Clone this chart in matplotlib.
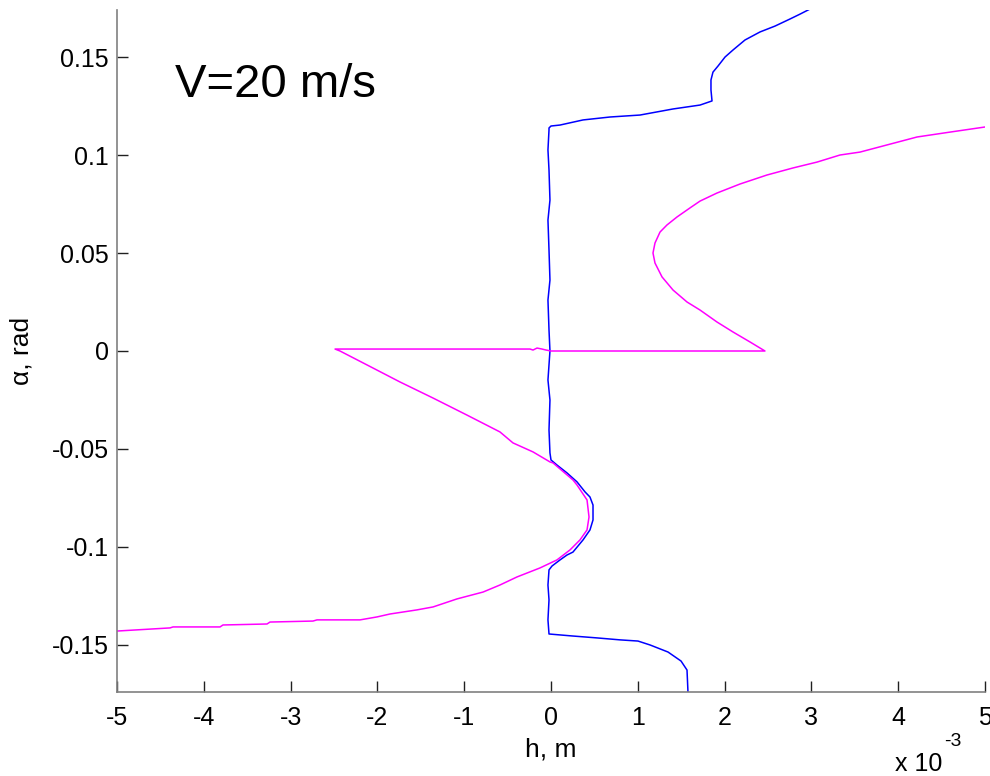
import numpy as np
import matplotlib
matplotlib.use("Agg")
import matplotlib.pyplot as plt

plt.rcParams['font.family'] = ['Liberation Sans', 'DejaVu Sans']

# Plunge displacement h (in units of 1e-3 m) and pitch angle alpha (rad)
h_blue = [1.578, 1.578, 1.567, 1.498, 1.348, 1.141, 1.002, 0.795, 0.530, 0.242, -0.023,
          -0.035, -0.023, -0.035, -0.023, 0.012, 0.104, 0.184, 0.253, 0.369, 0.449, 0.484,
          0.484, 0.449, 0.392, 0.300, 0.184, 0.069, 0.000, -0.012,
          -0.023, -0.012, -0.035, -0.012, -0.023, -0.035, -0.012, -0.023, -0.035, -0.012,
          -0.023, -0.035, -0.023, -0.023, 0.000, 0.104, 0.369, 0.680, 1.025, 1.406, 1.717,
          1.855, 1.843, 1.843, 1.866, 1.924, 2.005, 2.097, 2.235, 2.408, 2.581, 2.753,
          2.869, 2.984]
a_blue = [-0.178, -0.1740, -0.1628, -0.1582, -0.1536, -0.1500, -0.1480, -0.1474, -0.1464,
          -0.1454, -0.1444, -0.1372, -0.1270, -0.1194, -0.1117, -0.1097, -0.1066, -0.1041,
          -0.1026, -0.0964, -0.0913, -0.0862, -0.0786, -0.0745, -0.0719, -0.0668, -0.0622,
          -0.0582, -0.0556, -0.0520,
          -0.0403, -0.0250, -0.0148, 0.0000, 0.0107, 0.0260, 0.0362, 0.0515, 0.0668, 0.0770,
          0.0923, 0.1026, 0.1128, 0.1138, 0.1148, 0.1153, 0.1179, 0.1194, 0.1204, 0.1235,
          0.1255, 0.1276, 0.1332, 0.1383, 0.1423, 0.1454, 0.1500, 0.1536, 0.1587, 0.1628,
          0.1658, 0.1694, 0.1719, 0.1745]

h_mag = [-5.000, -4.389, -4.355, -3.813, -3.779, -3.272, -3.237, -2.742, -2.696, -2.200,
         -2.005, -1.855, -1.544, -1.359, -1.083, -0.783, -0.588, -0.392, -0.127, 0.069,
         0.219, 0.334, 0.415, 0.438, 0.415, 0.300, 0.253, 0.023, -0.012, -0.207, -0.438,
         -0.588, -0.968, -1.359, -1.740, -2.120, -2.431, -2.488,
         -0.242, -0.207, -0.161, -0.104, -0.058, 0.000, 2.465,
         2.293, 2.097, 1.912, 1.717, 1.567, 1.406, 1.279, 1.198, 1.175, 1.198, 1.256,
         1.336, 1.452, 1.601, 1.717, 1.912, 2.177, 2.488, 2.788, 3.065, 3.329, 3.560,
         4.217, 4.597, 5.000]
a_mag = [-0.1429, -0.1413, -0.1408, -0.1408, -0.1398, -0.1393, -0.1383, -0.1378, -0.1372,
         -0.1372, -0.1357, -0.1342, -0.1321, -0.1306, -0.1265, -0.1230, -0.1194, -0.1153,
         -0.1107, -0.1066, -0.1015, -0.0964, -0.0913, -0.0847, -0.0760, -0.0684, -0.0658,
         -0.0571, -0.0566, -0.0515, -0.0469, -0.0413, -0.0327, -0.0240, -0.0158, -0.0071,
         0.0000, 0.0010,
         0.0010, 0.0005, 0.0015, 0.0010, 0.0005, 0.0000, 0.0000,
         0.0046, 0.0097, 0.0148, 0.0209, 0.0250, 0.0311, 0.0378, 0.0449, 0.0500, 0.0551,
         0.0607, 0.0643, 0.0684, 0.0730, 0.0765, 0.0806, 0.0852, 0.0898, 0.0934, 0.0964,
         0.1000, 0.1015, 0.1092, 0.1117, 0.1143]

x_ticks = [-5, -4, -3, -2, -1, 0, 1, 2, 3, 4, 5]
y_ticks = [-0.15, -0.1, -0.05, 0, 0.05, 0.1, 0.15]
y_tick_labels = ['-0.15', '-0.1', '-0.05', '0', '0.05', '0.1', '0.15']

fig = plt.figure(figsize=(9.9, 7.76), dpi=100)
ax = fig.add_axes([117 / 990, 84 / 776, 868 / 990, 682 / 776])

ax.plot(np.array(h_blue) * 1e-3, a_blue, color='#0000ff', lw=1.1)
ax.plot(np.array(h_mag) * 1e-3, a_mag, color='#ff00ff', lw=1.1)

ax.set_xlim(-5e-3, 5e-3)
ax.set_ylim(-0.174, 0.174)
ax.set_xticks(np.array(x_ticks) * 1e-3)
ax.set_xticklabels([str(t) for t in x_ticks])
ax.set_yticks(y_ticks)
ax.set_yticklabels(y_tick_labels)

for side in ('top', 'right'):
    ax.spines[side].set_visible(False)
for side in ('left', 'bottom'):
    ax.spines[side].set_color('#808080')
    ax.spines[side].set_linewidth(1.2)

ax.tick_params(axis='both', direction='in', length=8, width=1.0, color='#202020',
               labelsize=18, labelcolor='black')
ax.tick_params(axis='x', pad=10)
ax.tick_params(axis='y', pad=6)

ax.text(0.5, -0.084, 'h, m', transform=ax.transAxes, ha='center', va='center',
        fontsize=19)
ax.text(-0.110, 0.5, 'α, rad', transform=ax.transAxes, ha='center', va='center',
        rotation=90, fontsize=19)
ax.text(-4.33e-3, 0.1295, 'V=20 m/s', ha='left', va='baseline', fontsize=34)

# exponent multiplier for the h axis
fig.text(942 / 990, 1 - 771 / 776, 'x 10', ha='right', va='baseline', fontsize=18)
fig.text(944 / 990, 1 - 746 / 776, '-3', ha='left', va='baseline', fontsize=14)

fig.savefig('out.png', dpi=100)
